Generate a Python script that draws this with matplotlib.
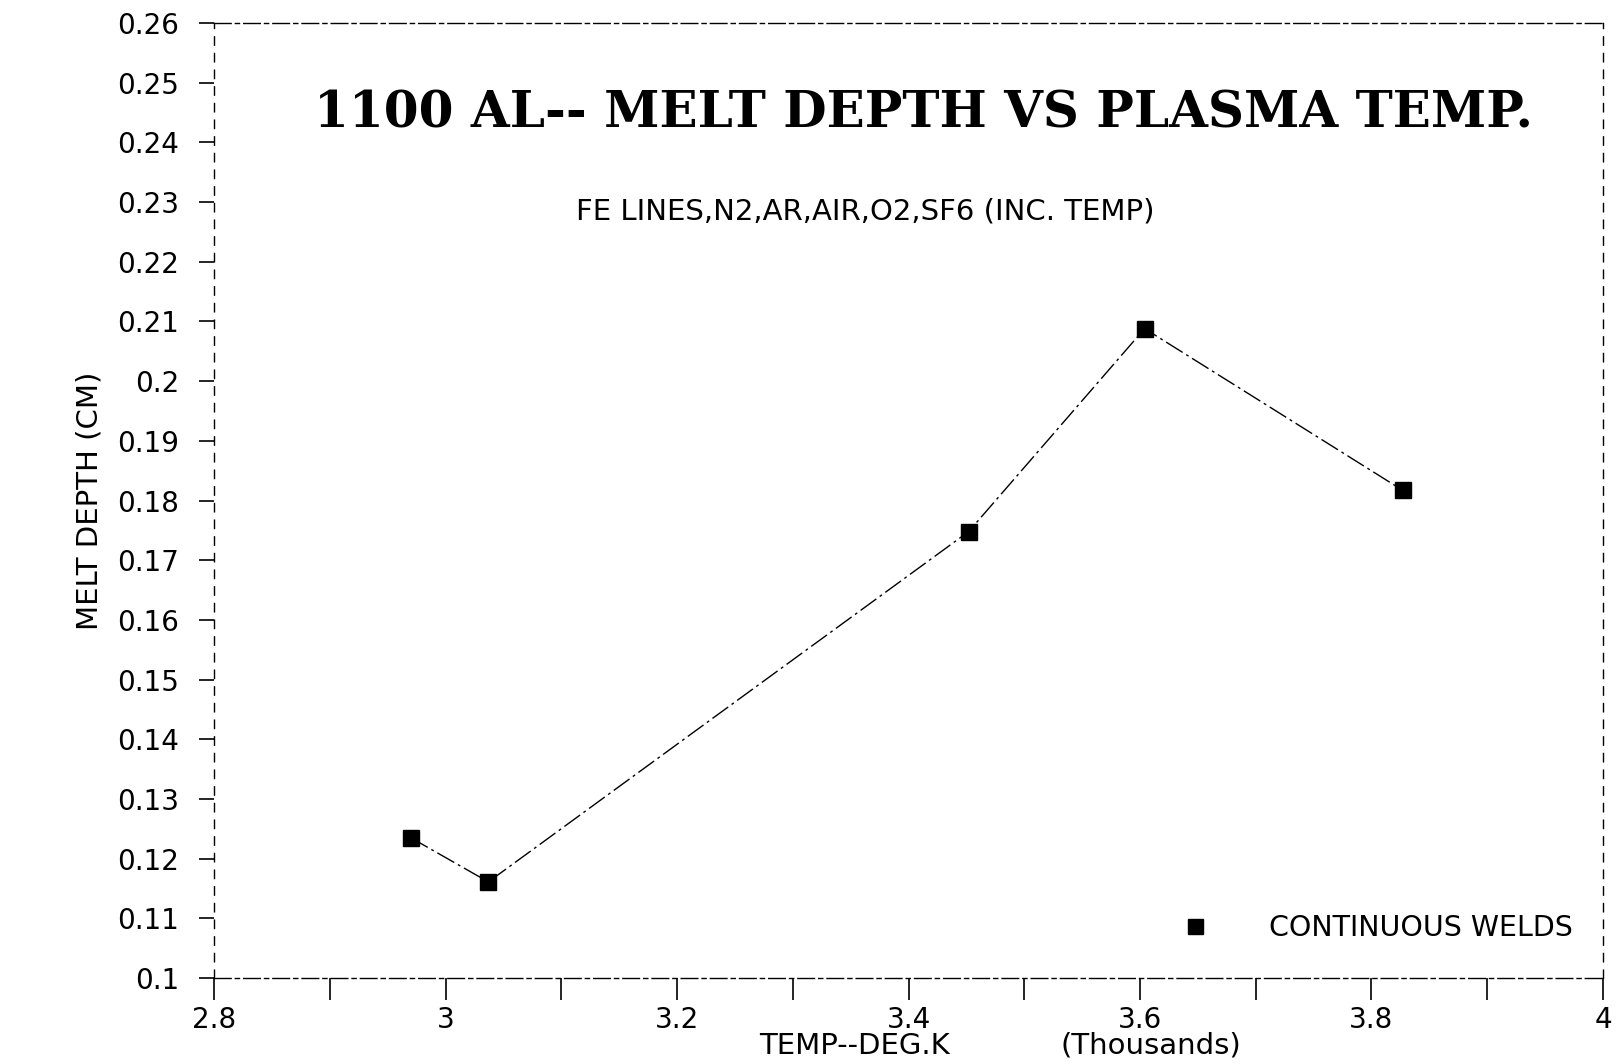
import matplotlib.pyplot as plt
import numpy as np

# plasma temperature (thousands deg K) and melt depth (cm)
temp = [2.970, 3.037, 3.452, 3.604, 3.827]
depth = [0.1235, 0.1161, 0.1748, 0.2088, 0.1817]

xticks = [2.8, 3.0, 3.2, 3.4, 3.6, 3.8, 4.0]
xlabels = ['2.8', '3', '3.2', '3.4', '3.6', '3.8', '4']
yticks = np.round(np.arange(0.10, 0.2601, 0.01), 2)
ylabels = ['0.1'] + ['%g' % v for v in yticks[1:]]

fig = plt.figure(figsize=(16.18, 10.64), dpi=100)
ax = fig.add_axes([0.1323, 0.0808, 0.8584, 0.8976])

ax.plot(temp, depth, color='black', lw=1.0, linestyle=(0, (14, 3, 2, 3)),
        marker='s', markersize=12, markerfacecolor='black',
        markeredgecolor='black', label='CONTINUOUS WELDS')

ax.set_xlim(2.8, 4.0)
ax.set_ylim(0.10, 0.26)
ax.set_xticks(xticks)
ax.set_xticklabels(xlabels, fontsize=20)
ax.set_xticks(np.arange(2.9, 4.0, 0.2), minor=True)
ax.set_yticks(yticks)
ax.set_yticklabels(ylabels, fontsize=20)
ax.tick_params(axis='x', which='both', direction='out', length=16, width=1.2, pad=4)
ax.tick_params(axis='y', direction='out', length=11, width=1.2, pad=14)

for s in ['top', 'bottom']:
    ax.spines[s].set_linestyle((0, (12, 3, 3, 3)))
for s in ['left', 'right']:
    ax.spines[s].set_linestyle((0, (6, 6)))
for s in ax.spines.values():
    s.set_linewidth(1.0)

fig.text(0.571, 0.893, '1100 AL-- MELT DEPTH VS PLASMA TEMP.', ha='center', va='center',
         fontsize=36, fontweight='bold', family='DejaVu Serif')
fig.text(0.535, 0.801, 'FE LINES,N2,AR,AIR,O2,SF6 (INC. TEMP)', ha='center', va='center',
         fontsize=21)

ax.set_ylabel('MELT DEPTH (CM)', fontsize=21, labelpad=10)
fig.text(0.528, 0.004, 'TEMP--DEG.K', ha='center', va='bottom', fontsize=21)
fig.text(0.711, 0.004, '(Thousands)', ha='center', va='bottom', fontsize=21)

ax.legend(loc='lower right', bbox_to_anchor=(0.997, 0.011), frameon=False,
          handlelength=0, handletextpad=2.6, fontsize=20.5, markerscale=0.9)

plt.savefig('out.png')
